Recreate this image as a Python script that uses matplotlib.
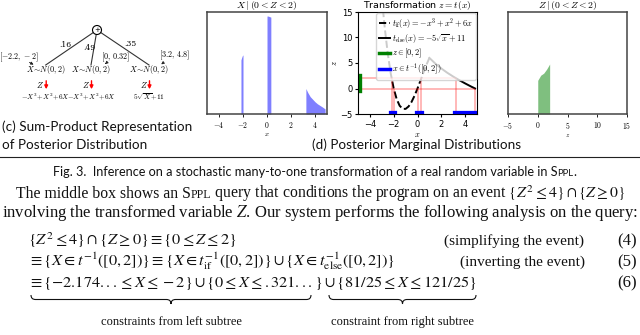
import numpy as np
import matplotlib.pyplot as plt
from matplotlib.patches import Circle, PathPatch
from matplotlib.path import Path

plt.rcParams['mathtext.fontset'] = 'cm'

# ---- values ----
# posterior of X | (0 < Z < 2), three pieces
x_left = [-2.17, -2.12, -2.06, -2.0]
p_left = [0.53, 0.55, 0.57, 0.58]
x_mid = [0.0, 0.1, 0.2, 0.32]
p_mid = [0.96, 0.96, 0.955, 0.95]
x_right = [3.24, 3.4, 3.6, 3.8, 4.0, 4.2, 4.4, 4.6, 4.84]
p_right = [0.25, 0.21, 0.17, 0.145, 0.12, 0.10, 0.085, 0.07, 0.05]

# transformation z = t(x)
x_if = [-2.9, -2.75, -2.5, -2.25, -2.0, -1.75, -1.5, -1.25, -1.0,
        -0.75, -0.5, -0.25, 0.0, 0.25, 0.5, 0.75, 1.0]
z_if = [15.4, 11.86, 6.88, 2.95, 0.0, -2.08, -3.38, -3.98, -4.0,
        -3.52, -2.63, -1.42, 0.0, 1.55, 3.13, 4.64, 6.0]
x_else = [1.0, 1.5, 2.0, 2.5, 3.0, 3.5, 4.0, 4.5, 4.84]
z_else = [6.0, 4.88, 3.93, 3.09, 2.34, 1.65, 1.0, 0.39, 0.0]
z_event = [0, 2]
x_cut = [-2.17, -2.0, 0.0, 0.32, 3.24, 4.84]
z_cut = [2, 0, 0, 2, 2, 0]
x_sets = [(-2.17, -2.0), (0.0, 0.32), (3.24, 4.84)]

# posterior of Z | (0 < Z < 2)
z_grid = [0.0, 0.5, 1.0, 1.5, 2.0]
p_z = [0.33, 0.38, 0.40, 0.44, 0.49]

# sum-product tree
weights = ['.16', '.49', '.35']
bounds = [r'$[-2.2,\,-2]$', r'$[0,\,0.32]$', r'$[3.2,\,4.8]$']
leaves = [r'$-X^3\!+\!X^2\!+\!6X$', r'$-X^3\!+\!X^2\!+\!6X$', r'$5\sqrt{X}\!+\!11$']

W, H = 640, 335
fig = plt.figure(figsize=(6.4, 3.35), dpi=100)
bg = fig.add_axes([0, 0, 1, 1])
bg.set_xlim(0, W)
bg.set_ylim(H, 0)
bg.axis('off')


def box(l, t, r, b):
    return [l / W, 1 - b / H, (r - l) / W, (b - t) / H]


ax1 = fig.add_axes(box(207, 12, 327, 114))
ax2 = fig.add_axes(box(358, 12, 477, 114))
ax3 = fig.add_axes(box(508, 12, 627, 114))

# panel X | ...
for xs, ps in [(x_left, p_left), (x_mid, p_mid), (x_right, p_right)]:
    ax1.fill_between(xs, ps, color='blue', alpha=0.5, lw=0)
ax1.set_xlim(-5, 5)
ax1.set_ylim(0, 1)
t1 = [-4, -2, 0, 2, 4]
ax1.set_xticks(t1, [f'${t}$' for t in t1], fontsize=5.5)
ax1.set_yticks([])
ax1.set_xlabel('$x$', fontsize=5, labelpad=1)
ax1.set_title(r'$X\mid(0<Z<2)$', fontsize=7, pad=2)

# panel Z | ...
ax3.fill_between(z_grid, p_z, color='green', alpha=0.5, lw=0)
ax3.set_xlim(-5, 15)
ax3.set_ylim(0, 1)
t3 = [-5, 0, 5, 10, 15]
ax3.set_xticks(t3, [f'${t}$' for t in t3], fontsize=5.5)
ax3.set_yticks([])
ax3.set_xlabel('$z$', fontsize=5, labelpad=1)
ax3.set_title(r'$Z\mid(0<Z<2)$', fontsize=7, pad=2)

for a in (ax1, ax3):
    for s in a.spines.values():
        s.set_color('#444444')
        s.set_linewidth(1.1)
    a.tick_params(length=2, width=0.6, pad=2)

# transformation panel
ax2.plot(x_if, z_if, 'k--', lw=1.4, label=r'$t_{\rm if}(x) = -x^3 + x^2 + 6x$')
ax2.plot(x_else, z_else, 'k-', lw=1.4, label=r'$t_{\rm else}(x) = -5\sqrt{x} + 11$')
for z in z_event:
    xe = max(xc for xc, zc in zip(x_cut, z_cut) if zc == z)
    ax2.hlines(z, -5, xe, color='red', alpha=0.3, lw=1.3)
ax2.vlines(x_cut, -5, z_cut, color='red', alpha=0.3, lw=1.3)
ax2.plot([-5, -5], z_event, color='green', lw=6, label=r'$z \in [0,2]$')
for i, (a, b) in enumerate(x_sets):
    ax2.plot([a, b], [-5, -5], color='blue', lw=4.5,
             label=r'$x \in t^{-1}([0,2])$' if i == 0 else None)
ax2.set_xlim(-5, 5)
ax2.set_ylim(-5, 15)
ax2.set_xticks([-4, -2, 0, 2, 4])
ax2.set_yticks([-5, 0, 5, 10, 15])
ax2.tick_params(labelsize=6, length=2.5, pad=1.5)
ax2.set_xlabel('$x$', fontsize=6, labelpad=1)
ax2.set_ylabel('$z$', fontsize=6, labelpad=1)
ax2.set_title('Transformation $z = t(x)$', fontsize=6.8, pad=1.5)
leg = ax2.legend(loc='upper right', fontsize=6, handlelength=1.3, handletextpad=0.3,
                 labelspacing=0.2, borderpad=0.3, borderaxespad=0.15)
for ln in leg.get_lines()[2:]:
    ln.set_linewidth(2.5)

# sum-product tree (pixel coordinates on the background axes)
root = (97, 30)
nodes_x = [45.7, 91, 149]
for nx in nodes_x:
    bg.plot([root[0], nx], [root[1], 65], color='#333333', lw=0.8)
bg.add_patch(Circle(root, 4.5, facecolor='white', edgecolor='black', lw=0.8, zorder=3))
bg.text(root[0], root[1] + 0.3, '+', ha='center', va='center', fontsize=5, zorder=4)
for (wx, wy), w in zip([(65.5, 45), (89, 47.5), (130, 44.3)], weights):
    bg.text(wx, wy, w, ha='center', va='center', fontsize=5.5, family='DejaVu Serif')
for (bx, by), b in zip([(19, 57.5), (115.7, 57.7), (174.3, 55.7)], bounds):
    bg.text(bx, by, b, ha='center', va='center', fontsize=5.8)
for (p0, p1) in [((27, 61), (36, 66)), ((108, 61.5), (103, 66)), ((165, 61.5), (159, 66))]:
    bg.annotate('', xy=p1, xytext=p0,
                arrowprops=dict(arrowstyle='-|>', lw=0.6, color='#222222', mutation_scale=4))
for nx, leaf in zip(nodes_x, leaves):
    bg.text(nx, 70, r'$X\!\sim\!N(0,2)$', ha='center', va='center', fontsize=5.9)
    bg.text(nx - 5.5, 84.5, '$Z$', ha='center', va='center', fontsize=5.9)
    bg.annotate('', xy=(nx + 0.5, 92), xytext=(nx + 0.5, 78),
                arrowprops=dict(arrowstyle='-|>', lw=1.0, color='red', mutation_scale=5))
    bg.text(nx, 97, leaf, ha='center', va='center', fontsize=5.2)

r = fig.canvas.get_renderer()


def fit(t, width):
    w = t.get_window_extent(r).width
    t.set_fontsize(t.get_fontsize() * width / w)
    return t.get_fontsize()


def chain(x, y, parts, size, **kw):
    prev = None
    for s, k in parts:
        if prev is None:
            prev = bg.text(x, y, s, fontsize=size * k, va='baseline', **kw)
        else:
            prev = bg.annotate(s, xy=(1, y), xycoords=(prev, 'data'), fontsize=size * k,
                               va='baseline', ha='left', **kw)
    return prev


# captions (sans)
sans = dict(family='Lato', color='#111111')
c1 = bg.text(2, 131, '(c) Sum-Product Representation', va='baseline', **sans)
cs = fit(c1, 190)
bg.text(2, 149, 'of Posterior Distribution', va='baseline', fontsize=cs, **sans)
bg.text(417, 149, '(d) Posterior Marginal Distributions', va='baseline', ha='center',
        fontsize=cs, **sans)
bg.plot([0, W], [157, 157], color='#222222', lw=0.8)
chain(53, 176, [('Fig. 3.  Inference on a stochastic many-to-one transformation of a real '
                 'random variable in S', 1.0), ('PPL', 0.75), ('.', 1.0)], cs * 0.93, **sans)

# body text (serif)
serif = dict(family='Liberation Serif', color='#111111', math_fontfamily='stix')
l2 = bg.text(2, 217, 'involving the transformed variable $Z$. Our system performs the '
             'following analysis on the query:', va='baseline', **serif)
bs = fit(l2, 636)
chain(16, 198, [('The middle box shows an S', 1.0), ('PPL', 0.75),
                (r' query that conditions the program on an event $\{Z^2 \leq 4\} \cap \{Z \geq 0\}$', 1.0)],
      bs * 0.95, **serif)

e6 = bg.text(28, 287, r'$\equiv \{-2.174... \leq X \leq -2\} \cup \{0 \leq X \leq .321...\} '
             r'\cup \{81/25 \leq X \leq 121/25\}$', va='baseline', **serif)
es = fit(e6, 448)
bg.text(28, 245, r'$\{Z^2 \leq 4\} \cap \{Z \geq 0\} \equiv \{0 \leq Z \leq 2\}$',
        va='baseline', fontsize=es, **serif)
bg.text(28, 266, r'$\equiv \{X \in t^{-1}([0,2])\} \equiv \{X \in t_{\rm if}^{-1}([0,2])\} '
        r'\cup \{X \in t_{\rm else}^{-1}([0,2])\}$', va='baseline', fontsize=es, **serif)
bg.text(444, 245, '(simplifying the event)', va='baseline', fontsize=bs * 0.92, **serif)
bg.text(460, 266, '(inverting the event)', va='baseline', fontsize=bs * 0.92, **serif)
for yb, tag in [(245, '(4)'), (266, '(5)'), (287, '(6)')]:
    bg.text(637, yb, tag, va='baseline', ha='right', fontsize=bs, **serif)


def brace(x0, x1, y, h):
    xm = (x0 + x1) / 2
    verts = [(x0, y), (x0, y + h), (x0 + h, y + h), (xm - h, y + h), (xm, y + h), (xm, y + 2 * h),
             (xm, y + h), (xm + h, y + h), (x1 - h, y + h), (x1, y + h), (x1, y)]
    codes = [Path.MOVETO, Path.CURVE3, Path.CURVE3, Path.LINETO, Path.CURVE3, Path.CURVE3,
             Path.CURVE3, Path.CURVE3, Path.LINETO, Path.CURVE3, Path.CURVE3]
    bg.add_patch(PathPatch(Path(verts, codes), fill=False, lw=0.8, color='#111111'))


brace(31, 311, 295, 4.5)
brace(329, 476, 295, 4.5)
bg.text(171, 325, 'constraints from left subtree', ha='center', va='baseline',
        fontsize=bs * 0.75, **serif)
bg.text(402, 325, 'constraint from right subtree', ha='center', va='baseline',
        fontsize=bs * 0.75, **serif)

fig.savefig('out.png', dpi=100)
